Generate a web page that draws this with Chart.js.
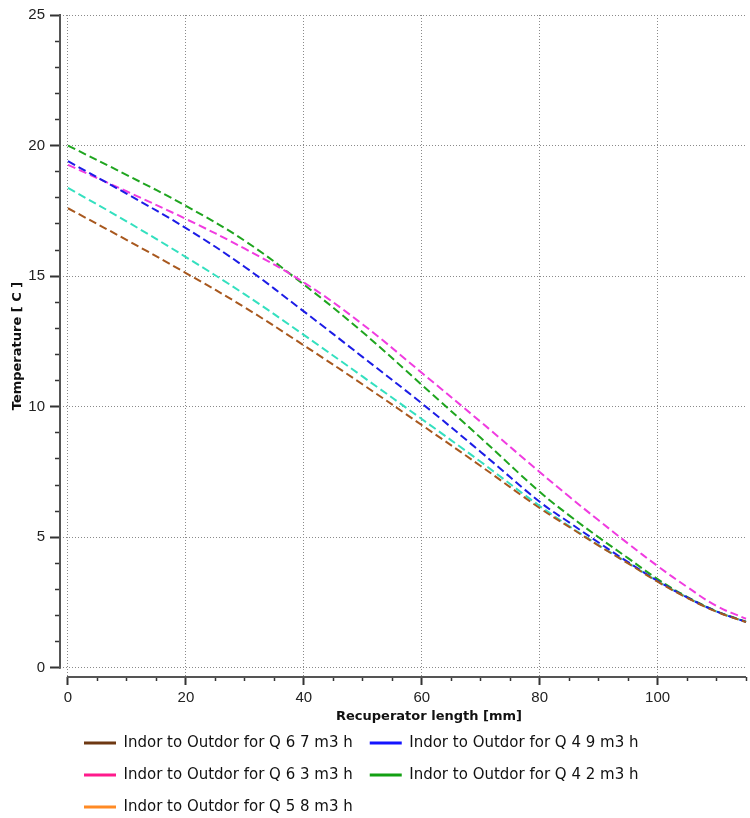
<!DOCTYPE html>
<html>
<head>
<meta charset="utf-8">
<script src="https://cdn.jsdelivr.net/npm/chart.js@4"></script>
<style>
  html, body { margin: 0; padding: 0; background: #ffffff; overflow: hidden; }
  #wrap { width: 750px; height: 818px; }
</style>
</head>
<body>
<div id="wrap"><canvas id="c" width="750" height="818"></canvas></div>
<script>
// ---- data ----
const lengthMm = [0, 10, 20, 30, 40, 50, 60, 70, 80, 85, 90, 95, 100, 105, 110, 115];
const q67 = [17.6, 16.38, 15.12, 13.8, 12.35, 10.85, 9.3, 7.73, 6.12, 5.4, 4.68, 4.0, 3.3, 2.68, 2.15, 1.75];
const q49 = [19.4, 18.15, 16.84, 15.35, 13.65, 11.9, 10.13, 8.27, 6.36, 5.57, 4.8, 4.05, 3.33, 2.7, 2.16, 1.76];
const q63 = [19.26, 18.24, 17.19, 16.05, 14.76, 13.15, 11.3, 9.42, 7.5, 6.56, 5.65, 4.76, 3.9, 3.1, 2.37, 1.88];
const q42 = [20.0, 18.87, 17.69, 16.35, 14.68, 12.85, 10.84, 8.81, 6.74, 5.84, 5.0, 4.2, 3.4, 2.72, 2.17, 1.77];
const q58 = [18.38, 17.09, 15.73, 14.3, 12.75, 11.15, 9.53, 7.89, 6.2, 5.43, 4.7, 4.02, 3.32, 2.7, 2.16, 1.76];
const seriesNames = [
  'Indor to Outdor for Q 6 7 m3 h',
  'Indor to Outdor for Q 4 9 m3 h',
  'Indor to Outdor for Q 6 3 m3 h',
  'Indor to Outdor for Q 4 2 m3 h',
  'Indor to Outdor for Q 5 8 m3 h'
];
const seriesValues = [q67, q49, q63, q42, q58];
const xTickLabels = [0, 20, 40, 60, 80, 100];
const yTickLabels = [0, 5, 10, 15, 20, 25];

// ---- styles ----
const lineColors = ['#a8581e', '#1c1ce6', '#f03ce0', '#1fa51f', '#34e0bf'];
const legendColors = ['#6e3812', '#1414ff', '#ff1a8c', '#12a012', '#ff8a24'];

const datasets = seriesValues.map((vals, i) => ({
  label: seriesNames[i],
  data: lengthMm.map((x, j) => ({ x: x, y: vals[j] })),
  borderColor: lineColors[i],
  backgroundColor: lineColors[i],
  borderWidth: 2,
  borderDash: [8, 4],
  pointRadius: 0,
  fill: false,
  tension: 0.4
}));

const isMajorX = v => xTickLabels.includes(v);
const isMajorY = v => yTickLabels.includes(v);

const nudge = {
  id: 'nudge',
  afterLayout(chart) {
    const lg = chart.legend;
    if (lg) { lg.left += 7; lg.right += 7; }
    chart.scales.x.right += 52;
  }
};

// axis lines that span only the labelled data range (like the reference)
const axisLines = {
  id: 'axisLines',
  beforeDatasetsDraw(chart) {
    const { ctx, chartArea, scales: { x, y } } = chart;
    ctx.save();
    ctx.strokeStyle = '#555555';
    ctx.lineWidth = 2;
    ctx.beginPath();
    ctx.moveTo(chartArea.left, y.getPixelForValue(y.max) - 1);
    ctx.lineTo(chartArea.left, y.getPixelForValue(0) + 1);
    ctx.moveTo(x.getPixelForValue(0) - 1, chartArea.bottom);
    ctx.lineTo(chartArea.right, chartArea.bottom);
    ctx.stroke();
    ctx.restore();
  }
};

new Chart(document.getElementById('c'), {
  type: 'line',
  data: { datasets: datasets },
  plugins: [nudge, axisLines],
  options: {
    responsive: false,
    animation: false,
    devicePixelRatio: 1,
    layout: { padding: { top: 15, right: 0, bottom: -6.5, left: 0 } },
    plugins: {
      tooltip: { enabled: false },
      legend: {
        position: 'bottom',
        align: 'start',
        fullSize: false,
        labels: {
          boxWidth: 32,
          boxHeight: 3,
          padding: 17,
          color: '#111111',
          font: { family: 'DejaVu Sans', size: 15 },
          generateLabels: (chart) => chart.data.datasets.map((ds, i) => ({
            text: ds.label,
            fillStyle: legendColors[i],
            strokeStyle: legendColors[i],
            lineWidth: 0,
            hidden: false,
            datasetIndex: i,
            fontColor: '#111111'
          }))
        }
      }
    },
    scales: {
      x: {
        type: 'linear',
        min: -1.35,
        max: 115,
        afterFit: (s) => { s.height = 41.5; },
        ticks: {
          stepSize: 5,
          includeBounds: false,
          autoSkip: false,
          maxRotation: 0,
          padding: 4,
          color: '#222222',
          font: { family: 'Liberation Sans', size: 15 },
          callback: (v) => isMajorX(v) ? String(v) : ''
        },
        grid: {
          color: (c) => (c.tick && isMajorX(c.tick.value)) ? '#8a8a8a' : 'rgba(0,0,0,0)',
          lineWidth: 1,
          tickLength: 8,
          tickColor: '#333333',
          tickWidth: (c) => (c.tick && isMajorX(c.tick.value)) ? 2 : 1.5,
          tickBorderDash: (c) => (c.tick && isMajorX(c.tick.value)) ? [] : [4, 100]
        },
        border: { display: false, dash: [1, 2] },
        title: {
          display: true,
          text: 'Recuperator length [mm]',
          color: '#111111',
          font: { family: 'DejaVu Sans', size: 13, weight: 'bold' },
          padding: { top: 0, bottom: -6.3 }
        }
      },
      y: {
        type: 'linear',
        min: -0.35,
        max: 25,
        afterFit: (s) => { s.width = 60; },
        ticks: {
          stepSize: 1,
          includeBounds: false,
          autoSkip: false,
          padding: 5,
          color: '#222222',
          font: { family: 'Liberation Sans', size: 15 },
          callback: (v) => isMajorY(v) ? String(v) : ''
        },
        grid: {
          color: (c) => (c.tick && isMajorY(c.tick.value)) ? '#8a8a8a' : 'rgba(0,0,0,0)',
          lineWidth: 1,
          tickLength: 10,
          tickColor: '#333333',
          tickWidth: (c) => (c.tick && isMajorY(c.tick.value)) ? 2 : 1.5,
          tickBorderDash: (c) => (c.tick && isMajorY(c.tick.value)) ? [] : [0, 5, 5, 100]
        },
        border: { display: false, dash: [1, 2] },
        title: {
          display: true,
          text: 'Temperature [ C ]',
          color: '#111111',
          font: { family: 'DejaVu Sans', size: 13, weight: 'bold' },
          padding: { top: 10.2, bottom: 0 }
        }
      }
    }
  }
});
</script>
</body>
</html>
